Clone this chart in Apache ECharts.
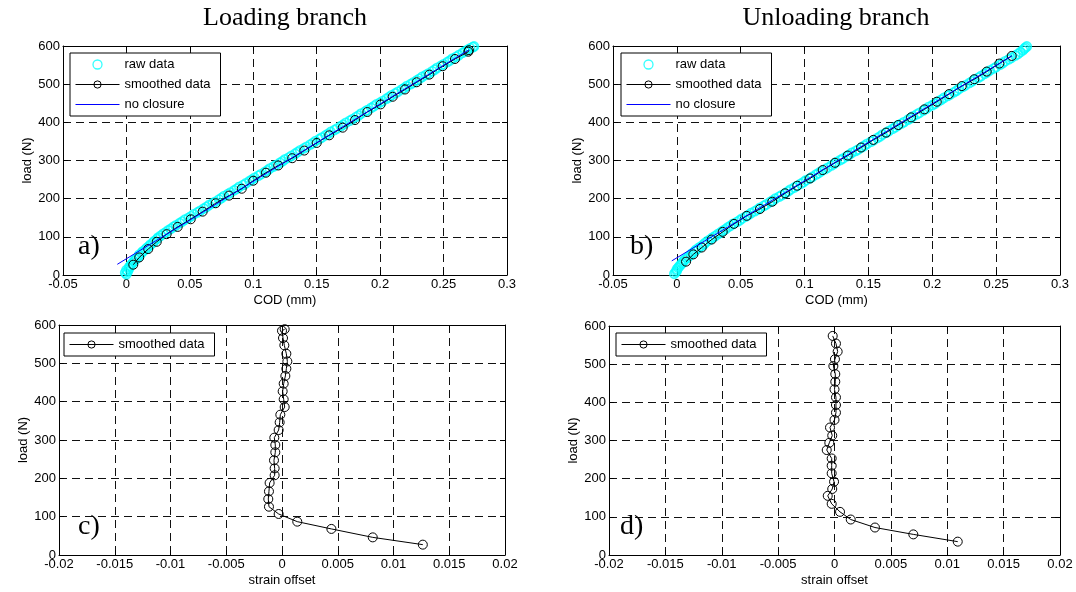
<!DOCTYPE html>
<html><head><meta charset="utf-8">
<script src="https://cdn.jsdelivr.net/npm/echarts@6/dist/echarts.min.js"></script>
<style>html,body{margin:0;padding:0;background:#fff}#c{width:1076px;height:592px}</style>
</head><body><div id="c"></div>
<script>
// ---------- DATA ----------
// Loading branch: smoothed points (load N, COD mm, strain offset)
const loadLoading = [27,46,68,87,107,126,146,166,188,208,226,247,268,287,306,326,346,366,386,406,427,447,467,486,505,525,547,566,585,589];
const codLoading = [0.0054,0.0101,0.0172,0.0239,0.0317,0.0404,0.0507,0.0601,0.0704,0.0809,0.0909,0.1000,0.1100,0.1197,0.1307,0.1402,0.1500,0.1599,0.1705,0.1802,0.1899,0.2004,0.2099,0.2196,0.2288,0.2388,0.2493,0.2590,0.2695,0.2700];
const strainLoading = [0.01263,0.00814,0.00443,0.00137,-0.0003,-0.00117,-0.00123,-0.00117,-0.00111,-0.00066,-0.00066,-0.00072,-0.0006,-0.0006,-0.00069,-0.0003,-0.00021,-0.00015,0.00024,0.00015,0.00006,0.00015,0.0003,0.00039,0.00048,0.00039,0.00021,0.00009,0.0,0.00024];
// Unloading branch
const loadUnloading = [35,54,72,93,113,134,155,173,192,214,234,253,275,294,313,334,354,373,393,413,434,454,474,495,513,533,554,574];
const codUnloading = [0.0072,0.0129,0.0195,0.0273,0.0359,0.0448,0.0547,0.0651,0.0747,0.0847,0.0943,0.1043,0.1142,0.1238,0.1338,0.1442,0.1538,0.1638,0.1734,0.1834,0.1938,0.2035,0.2131,0.2231,0.2329,0.2426,0.2525,0.2622];
const strainUnloading = [0.01093,0.00699,0.00359,0.00144,0.00049,-0.00025,-0.0006,-0.0002,-0.00004,-0.00025,-0.00025,-0.00025,-0.00069,-0.00046,-0.0002,-0.0004,0.0,0.00013,0.00013,0.00013,0.0,0.00007,0.00007,-0.0001,0.00004,0.00028,0.00013,-0.00016];
// No-closure lines [COD, load]
const noClosureLoading = [[-0.0072,28],[0.2700,590]];
const noClosureUnloading = [[-0.0040,37],[0.2622,574]];
// Raw data [COD, load]
const rawLoading = [[0.000,2],[-0.001,6],[0.001,9],[0.000,13],[0.002,16],[0.002,20],[0.003,24],[0.004,28],[0.005,32],[0.006,36],[0.007,40],[0.008,44],[0.010,49],[0.010,53],[0.012,58],[0.013,62],[0.015,67],[0.016,71],[0.018,76],[0.019,80],[0.021,85],[0.022,89],[0.024,94],[0.025,98],[0.027,103],[0.029,108],[0.031,112],[0.033,117],[0.035,121],[0.037,126],[0.039,130],[0.042,136],[0.044,140],[0.046,145],[0.049,150],[0.051,154],[0.053,159],[0.056,164],[0.058,168],[0.061,174],[0.063,178],[0.065,183],[0.068,188],[0.070,192],[0.073,198],[0.075,202],[0.077,207],[0.080,212],[0.082,216],[0.085,222],[0.087,226],[0.089,231],[0.092,236],[0.094,240],[0.097,246],[0.099,250],[0.101,255],[0.104,260],[0.106,264],[0.109,270],[0.111,274],[0.113,279],[0.116,284],[0.118,288],[0.121,294],[0.123,298],[0.125,303],[0.128,308],[0.130,312],[0.133,318],[0.135,322],[0.137,327],[0.140,332],[0.142,336],[0.145,342],[0.147,346],[0.149,351],[0.152,356],[0.154,360],[0.157,366],[0.159,370],[0.161,375],[0.164,380],[0.166,384],[0.169,390],[0.171,394],[0.173,399],[0.176,404],[0.178,408],[0.181,414],[0.183,418],[0.185,423],[0.188,428],[0.190,432],[0.193,438],[0.195,442],[0.197,447],[0.200,452],[0.202,456],[0.205,462],[0.207,466],[0.209,471],[0.212,476],[0.214,480],[0.217,486],[0.219,490],[0.221,495],[0.224,500],[0.226,504],[0.229,510],[0.231,514],[0.233,519],[0.236,524],[0.238,528],[0.241,534],[0.243,538],[0.245,543],[0.248,548],[0.250,552],[0.253,558],[0.255,562],[0.257,567],[0.260,572],[0.262,576],[0.265,582],[0.267,586],[0.269,590],[0.271,594],[0.273,597],[0.274,599]];
const rawUnloading = [[-0.002,3],[-0.001,7],[0.000,11],[0.000,15],[0.001,19],[0.002,23],[0.003,27],[0.004,31],[0.005,35],[0.006,40],[0.008,44],[0.009,48],[0.011,53],[0.012,57],[0.014,62],[0.015,66],[0.017,71],[0.019,75],[0.021,80],[0.022,84],[0.024,89],[0.026,93],[0.028,98],[0.030,102],[0.032,107],[0.034,111],[0.036,116],[0.038,120],[0.040,125],[0.042,129],[0.044,134],[0.047,139],[0.049,143],[0.051,148],[0.054,153],[0.056,157],[0.058,162],[0.061,167],[0.063,171],[0.065,176],[0.068,181],[0.070,185],[0.073,191],[0.075,195],[0.077,200],[0.080,205],[0.082,209],[0.085,215],[0.087,219],[0.089,224],[0.092,229],[0.094,233],[0.097,239],[0.099,243],[0.101,248],[0.104,253],[0.106,257],[0.109,263],[0.111,267],[0.113,272],[0.116,277],[0.118,281],[0.121,287],[0.123,291],[0.125,296],[0.128,301],[0.130,305],[0.133,311],[0.135,315],[0.137,320],[0.140,325],[0.142,329],[0.145,335],[0.147,339],[0.149,344],[0.152,349],[0.154,353],[0.157,359],[0.159,363],[0.161,368],[0.164,373],[0.166,377],[0.169,383],[0.171,387],[0.173,392],[0.176,397],[0.178,401],[0.181,407],[0.183,411],[0.185,416],[0.188,421],[0.190,425],[0.193,431],[0.195,435],[0.197,440],[0.200,445],[0.202,449],[0.205,455],[0.207,459],[0.209,464],[0.212,469],[0.214,473],[0.217,479],[0.219,483],[0.221,488],[0.224,493],[0.226,497],[0.229,503],[0.231,507],[0.233,512],[0.236,517],[0.238,521],[0.241,527],[0.243,531],[0.245,536],[0.248,541],[0.250,545],[0.253,551],[0.255,555],[0.257,560],[0.260,565],[0.262,569],[0.265,575],[0.267,579],[0.269,584],[0.271,589],[0.272,593],[0.273,596],[0.274,599]];
// Axis ranges [min, max, interval]
const codRange = [-0.05, 0.3, 0.05];
const strainRange = [-0.02, 0.02, 0.005];
const loadRange = [0, 600, 100];
const panelTitles = ['Loading branch', 'Unloading branch'];
const panelLetters = ['a)', 'b)', 'c)', 'd)'];
const xNames = ['COD (mm)', 'COD (mm)', 'strain offset', 'strain offset'];
const yName = 'load (N)';
const legendNamesTop = ['raw data', 'smoothed data', 'no closure'];
const legendNamesBottom = ['smoothed data'];

// ---------- CHART ----------
const FONT = '"Liberation Sans", Arial, sans-serif';
const SERIF = '"Liberation Serif", "Times New Roman", serif';
const CYAN = '#00ffff', BLUE = '#0000ff', BLACK = '#000000';
const grids = [
  {left: 63, top: 46, width: 444, height: 229},
  {left: 613, top: 46, width: 447, height: 229},
  {left: 59, top: 325, width: 446, height: 230},
  {left: 609, top: 326, width: 451, height: 229}
];
const xRanges = [codRange, codRange, strainRange, strainRange];
const gridLine = () => ({show: true, lineStyle: {color: '#111', width: 1, type: [8, 5]}});
const axLine = () => ({show: true, onZero: false, lineStyle: {color: '#000', width: 1}});
const tick = () => ({show: true, inside: true, length: 5, lineStyle: {color: '#000', width: 1}});
const lbl = () => ({show: true, margin: 3, fontFamily: FONT, fontSize: 13, color: '#000'});
const xAxis = [], yAxis = [];
grids.forEach((g, i) => {
  const [mn, mx, iv] = xRanges[i];
  xAxis.push({type: 'value', gridIndex: i, min: mn, max: mx, interval: iv, position: 'bottom',
    name: xNames[i], nameLocation: 'middle', nameGap: 19,
    nameTextStyle: {fontFamily: FONT, fontSize: 13, color: '#000'},
    axisLine: axLine(), axisTick: tick(), axisLabel: lbl(), splitLine: gridLine()});
  xAxis.push({type: 'value', gridIndex: i, min: mn, max: mx, interval: iv, position: 'top',
    axisLine: axLine(), axisTick: tick(), axisLabel: {show: false}, splitLine: {show: false}});
  yAxis.push({type: 'value', gridIndex: i, min: loadRange[0], max: loadRange[1], interval: loadRange[2], position: 'left',
    name: yName, nameLocation: 'middle', nameGap: 26,
    nameTextStyle: {fontFamily: FONT, fontSize: 13, color: '#000'},
    axisLine: axLine(), axisTick: tick(), axisLabel: lbl(), splitLine: gridLine()});
  yAxis.push({type: 'value', gridIndex: i, min: loadRange[0], max: loadRange[1], interval: loadRange[2], position: 'right',
    axisLine: axLine(), axisTick: tick(), axisLabel: {show: false}, splitLine: {show: false}});
});

function rawSeries(data, idx) {
  return {type: 'scatter', name: 'raw data', xAxisIndex: idx, yAxisIndex: idx, data: data,
    symbol: 'circle', symbolSize: 9, z: 2,
    itemStyle: {color: 'rgba(0,0,0,0)', borderColor: CYAN, borderWidth: 1.6}};
}
function smoothSeries(xs, ys, idx) {
  return {type: 'line', name: 'smoothed data', xAxisIndex: idx, yAxisIndex: idx,
    data: xs.map((x, k) => [x, ys[k]]), symbol: 'circle', symbolSize: 9, showAllSymbol: true, z: 3,
    lineStyle: {color: BLACK, width: 1},
    itemStyle: {color: 'rgba(0,0,0,0)', borderColor: BLACK, borderWidth: 1}};
}
function lineSeries(data, idx) {
  return {type: 'line', name: 'no closure', xAxisIndex: idx, yAxisIndex: idx, data: data,
    symbol: 'none', z: 4, color: BLUE, lineStyle: {color: BLUE, width: 1},
    itemStyle: {color: BLUE}};
}

const series = [
  rawSeries(rawLoading, 0), smoothSeries(codLoading, loadLoading, 0), lineSeries(noClosureLoading, 0),
  rawSeries(rawUnloading, 2), smoothSeries(codUnloading, loadUnloading, 2), lineSeries(noClosureUnloading, 2),
  smoothSeries(strainLoading, loadLoading, 4),
  smoothSeries(strainUnloading, loadUnloading, 6)
];

const legendItemStyles = {
  'raw data': {itemStyle: {color: 'rgba(0,0,0,0)', borderColor: CYAN, borderWidth: 1.3}},
  'smoothed data': {itemStyle: {color: 'rgba(0,0,0,0)', borderColor: BLACK, borderWidth: 1}, lineStyle: {color: BLACK, width: 1}},
  'no closure': {icon: 'path://M0,0L40,0L40,1L0,1Z', itemStyle: {color: BLUE, borderWidth: 0, borderColor: BLUE}}
};
function makeLegend(left, top, names) {
  return {orient: 'vertical', left: left, top: top, padding: [5, 10, 5, 5], itemWidth: 44, itemHeight: 9, itemGap: 7,
    textStyle: {fontFamily: FONT, fontSize: 13, color: '#000'}, borderColor: '#000', borderWidth: 1,
    backgroundColor: '#fff', borderRadius: 0, selectedMode: false,
    data: names.map(n => Object.assign({name: n}, JSON.parse(JSON.stringify(legendItemStyles[n]))))};
}
const legend = [
  makeLegend(70, 53, legendNamesTop),
  makeLegend(621, 53, legendNamesTop),
  makeLegend(64, 333, legendNamesBottom),
  makeLegend(616, 333, legendNamesBottom)
];

const letterPos = [[78, 247], [630, 247], [78, 527], [620, 527]];
const graphic = [
  {type: 'text', x: 285, y: 18, style: {text: panelTitles[0], font: '26px ' + SERIF, fill: '#000', textAlign: 'center', textVerticalAlign: 'middle'}},
  {type: 'text', x: 836, y: 18, style: {text: panelTitles[1], font: '26px ' + SERIF, fill: '#000', textAlign: 'center', textVerticalAlign: 'middle'}}
].concat(letterPos.map((p, i) => ({type: 'text', x: p[0], y: p[1], z: 10,
  style: {text: panelLetters[i], font: '28px ' + SERIF, fill: '#000', textAlign: 'left', textVerticalAlign: 'middle'}})));

const chart = echarts.init(document.getElementById('c'), null, {renderer: 'canvas'});
chart.setOption({
  animation: false,
  backgroundColor: '#fff',
  grid: grids.map(g => Object.assign({containLabel: false, outerBoundsMode: 'none'}, g)),
  xAxis: xAxis, yAxis: yAxis, series: series, legend: legend, graphic: graphic
});
</script></body></html>
